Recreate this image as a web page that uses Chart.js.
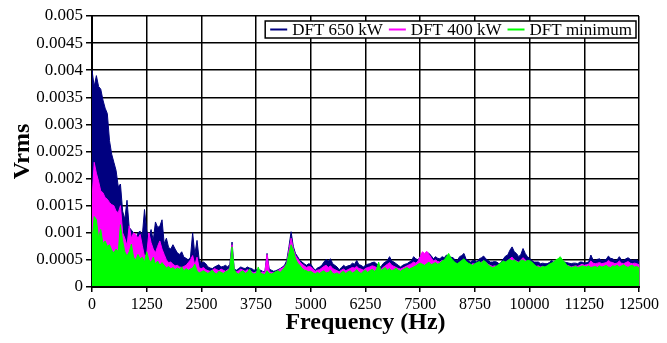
<!DOCTYPE html>
<html>
<head>
<meta charset="utf-8">
<title>DFT spectra</title>
<script src="https://cdn.jsdelivr.net/npm/chart.js@4.4.1/dist/chart.umd.min.js"></script>
<style>
  html, body { margin: 0; padding: 0; background: #fff; }
  #wrap { position: relative; width: 667px; height: 343px; }
</style>
</head>
<body>
<div id="wrap"><canvas id="spectrum"></canvas></div>
<script>
// Spectrum bins are 50 Hz apart, starting at 0 Hz (251 bins up to 12500 Hz).
const FREQ_STEP = 50;

const X_TICKS = [0, 1250, 2500, 3750, 5000, 6250, 7500, 8750, 10000, 11250, 12500];
const Y_TICKS = [0, 0.0005, 0.001, 0.0015, 0.002, 0.0025, 0.003, 0.0035, 0.004, 0.0045, 0.005];

const SERIES_LABELS = ['DFT 650 kW', 'DFT 400 kW', 'DFT minimum'];

// Vrms, one row = 500 Hz
const DFT_650KW = [
  0.0040, 0.0037, 0.0039, 0.0037, 0.00365, 0.00345, 0.0033, 0.0032, 0.0027, 0.00245,      // 0
  0.0023, 0.00215, 0.00185, 0.0019, 0.0014, 0.00125, 0.0016, 0.0011, 0.00105, 0.0010,     // 500
  0.00088, 0.0010, 0.00103, 0.00095, 0.00143, 0.00104, 0.0009, 0.00106, 0.00086, 0.0012,  // 1000
  0.0011, 0.00112, 0.00124, 0.0008, 0.0009, 0.00073, 0.0007, 0.00078, 0.0007, 0.00063,    // 1500
  0.0006, 0.00065, 0.00055, 0.00053, 0.0005, 0.00055, 0.0010, 0.0006, 0.00086, 0.0005,    // 2000
  0.00044, 0.00046, 0.00043, 0.00037, 0.00035, 0.00034, 0.00037, 0.00039, 0.00041, 0.00037, // 2500
  0.00038, 0.0004, 0.00037, 0.00042, 0.00083, 0.00033, 0.00031, 0.00034, 0.00037, 0.00035,  // 3000
  0.00034, 0.00037, 0.00035, 0.00034, 0.00031, 0.00032, 0.00031, 0.00031, 0.00029, 0.00028, // 3500
  0.00062, 0.00033, 0.00031, 0.00029, 0.0003, 0.00032, 0.00034, 0.00037, 0.0004, 0.00049,   // 4000
  0.00074, 0.00102, 0.00075, 0.00062, 0.00056, 0.00049, 0.00046, 0.00043, 0.0004, 0.00043,  // 4500
  0.00042, 0.00036, 0.00031, 0.00035, 0.00037, 0.0004, 0.00046, 0.00051, 0.00048, 0.00052,  // 5000
  0.00043, 0.0004, 0.00037, 0.00032, 0.00036, 0.0004, 0.00037, 0.00039, 0.0004, 0.00044,    // 5500
  0.00042, 0.00049, 0.00041, 0.0004, 0.00037, 0.0004, 0.00042, 0.00043, 0.00045, 0.00046,   // 6000
  0.00043, 0.0004, 0.00037, 0.00043, 0.00046, 0.00049, 0.00056, 0.00048, 0.00046, 0.00043,  // 6500
  0.0004, 0.00037, 0.0004, 0.00042, 0.00043, 0.00046, 0.00048, 0.00056, 0.00052, 0.0005,    // 7000
  0.00056, 0.00062, 0.0006, 0.00064, 0.00062, 0.00058, 0.00052, 0.00056, 0.00053, 0.00052,  // 7500
  0.00056, 0.00054, 0.00059, 0.00056, 0.00055, 0.00054, 0.0005, 0.00049, 0.00056, 0.00058,  // 8000
  0.00062, 0.00051, 0.00049, 0.00046, 0.00049, 0.00048, 0.00046, 0.00052, 0.00054, 0.00057, // 8500
  0.00052, 0.00049, 0.00046, 0.00046, 0.00047, 0.00046, 0.00043, 0.00045, 0.00052, 0.00057, // 9000
  0.00059, 0.00068, 0.00074, 0.00065, 0.00062, 0.00056, 0.0006, 0.00071, 0.00062, 0.00056,  // 9500
  0.00053, 0.00049, 0.00046, 0.00046, 0.00046, 0.00043, 0.00044, 0.00043, 0.00043, 0.00045, // 10000
  0.00049, 0.00046, 0.00047, 0.00049, 0.00046, 0.00047, 0.00046, 0.00045, 0.00044, 0.00043, // 10500
  0.00044, 0.00044, 0.00043, 0.00046, 0.00046, 0.00044, 0.00045, 0.00046, 0.00059, 0.0005,  // 11000
  0.00049, 0.00051, 0.00052, 0.00049, 0.0005, 0.00051, 0.00057, 0.00053, 0.00052, 0.00049,  // 11500
  0.0005, 0.00056, 0.0005, 0.00049, 0.00052, 0.00054, 0.00051, 0.00049, 0.0005, 0.0005,     // 12000
  0.00046                                                                                   // 12500
];

const DFT_400KW = [
  0.0016, 0.0023, 0.0021, 0.00195, 0.00177, 0.00174, 0.00165, 0.00162, 0.00156, 0.00152,   // 0
  0.0015, 0.0014, 0.00137, 0.0015, 0.0010, 0.0009, 0.00076, 0.00113, 0.0009, 0.0010,       // 500
  0.00097, 0.0009, 0.00097, 0.00076, 0.00057, 0.0006, 0.0010, 0.00082, 0.0007, 0.00063,    // 1000
  0.00075, 0.00085, 0.0007, 0.0006, 0.0005, 0.00045, 0.00046, 0.00042, 0.00039, 0.0004,    // 1500
  0.00037, 0.00036, 0.00038, 0.0004, 0.00045, 0.0005, 0.00058, 0.0004, 0.00055, 0.00035,   // 2000
  0.00034, 0.00036, 0.00032, 0.0003, 0.00029, 0.00031, 0.00034, 0.00032, 0.0003, 0.00033,  // 2500
  0.00031, 0.00029, 0.00032, 0.00034, 0.00078, 0.0003, 0.00028, 0.0003, 0.00033, 0.00031,  // 3000
  0.00029, 0.00032, 0.0003, 0.00028, 0.00026, 0.00028, 0.00027, 0.00026, 0.00028, 0.00026, // 3500
  0.0006, 0.00028, 0.00027, 0.00026, 0.00028, 0.0003, 0.00033, 0.00035, 0.00038, 0.00043,  // 4000
  0.00068, 0.0009, 0.0007, 0.00058, 0.00052, 0.00046, 0.00042, 0.00039, 0.00036, 0.00038,  // 4500
  0.00037, 0.00033, 0.00029, 0.00031, 0.00032, 0.00035, 0.00038, 0.0004, 0.00036, 0.00039, // 5000
  0.00034, 0.00032, 0.0003, 0.00028, 0.00031, 0.00033, 0.0003, 0.00032, 0.00034, 0.00036,  // 5500
  0.00035, 0.00038, 0.00034, 0.00033, 0.00031, 0.00034, 0.00036, 0.00037, 0.00039, 0.00038, // 6000
  0.00036, 0.00033, 0.00032, 0.00036, 0.00039, 0.00042, 0.00045, 0.0004, 0.00038, 0.00036,  // 6500
  0.00034, 0.00033, 0.00035, 0.00037, 0.00039, 0.00041, 0.00043, 0.00046, 0.00044, 0.00048, // 7000
  0.00056, 0.00065, 0.00062, 0.00066, 0.0006, 0.00054, 0.00048, 0.0005, 0.00047, 0.00046,   // 7500
  0.00049, 0.00048, 0.0005, 0.00049, 0.00046, 0.00045, 0.00043, 0.00042, 0.00045, 0.00048,  // 8000
  0.0005, 0.00044, 0.00042, 0.0004, 0.00043, 0.00042, 0.00041, 0.00044, 0.00046, 0.00048,   // 8500
  0.00045, 0.00042, 0.0004, 0.00038, 0.00039, 0.00038, 0.00037, 0.00039, 0.00043, 0.00046,  // 9000
  0.00048, 0.00052, 0.00055, 0.0005, 0.00048, 0.00046, 0.0005, 0.00054, 0.0005, 0.00046,    // 9500
  0.00044, 0.00042, 0.0004, 0.00038, 0.00039, 0.00037, 0.00038, 0.00036, 0.00038, 0.0004,   // 10000
  0.00043, 0.00041, 0.00044, 0.00048, 0.00052, 0.00046, 0.00042, 0.0004, 0.00039, 0.00037,  // 10500
  0.00038, 0.00039, 0.00038, 0.0004, 0.00042, 0.0004, 0.00041, 0.00042, 0.00048, 0.00044,   // 11000
  0.00043, 0.00044, 0.00045, 0.00043, 0.00044, 0.00045, 0.00049, 0.00046, 0.00045, 0.00043, // 11500
  0.00044, 0.00048, 0.00044, 0.00043, 0.00045, 0.00047, 0.00044, 0.00043, 0.00044, 0.00043, // 12000
  0.00041                                                                                   // 12500
];

const DFT_MINIMUM = [
  0.00085, 0.0013, 0.00125, 0.0009, 0.00106, 0.0008, 0.00085, 0.00075, 0.00078, 0.00068,   // 0
  0.00063, 0.0007, 0.00065, 0.00115, 0.00085, 0.00065, 0.00057, 0.00065, 0.00079, 0.00055, // 500
  0.0005, 0.0006, 0.00052, 0.00055, 0.00046, 0.00065, 0.0005, 0.00045, 0.00055, 0.00042,   // 1000
  0.00048, 0.0004, 0.00045, 0.0004, 0.00035, 0.00038, 0.00033, 0.00036, 0.00032, 0.00035,  // 1500
  0.00033, 0.00037, 0.0003, 0.00034, 0.00031, 0.00033, 0.00035, 0.00042, 0.0003, 0.00026,  // 2000
  0.00028, 0.0003, 0.00027, 0.00025, 0.00028, 0.00031, 0.00026, 0.00024, 0.00029, 0.00027, // 2500
  0.00025, 0.00028, 0.0003, 0.00034, 0.00074, 0.00032, 0.00026, 0.00024, 0.00028, 0.0003,  // 3000
  0.00025, 0.00027, 0.00033, 0.00026, 0.00024, 0.00025, 0.00037, 0.00026, 0.00024, 0.00023, // 3500
  0.0003, 0.00025, 0.00024, 0.00026, 0.00028, 0.0003, 0.00027, 0.00031, 0.00036, 0.00043,  // 4000
  0.00062, 0.00078, 0.00068, 0.00052, 0.00044, 0.0004, 0.00034, 0.00031, 0.0003, 0.00028,  // 4500
  0.00029, 0.00026, 0.00024, 0.00027, 0.00025, 0.00028, 0.0003, 0.00026, 0.00027, 0.00031, // 5000
  0.00025, 0.00024, 0.00026, 0.00023, 0.00027, 0.00029, 0.00025, 0.00028, 0.0003, 0.00026, // 5500
  0.00028, 0.00032, 0.00027, 0.00025, 0.00029, 0.00031, 0.00027, 0.0003, 0.00033, 0.00029, // 6000
  0.00032, 0.00046, 0.0003, 0.00033, 0.00036, 0.00031, 0.00034, 0.0003, 0.00032, 0.00035,  // 6500
  0.00031, 0.00029, 0.00032, 0.00034, 0.00036, 0.00033, 0.00035, 0.00037, 0.00039, 0.00042, // 7000
  0.00044, 0.00042, 0.0004, 0.00043, 0.00046, 0.00041, 0.00043, 0.00045, 0.00042, 0.00044,  // 7500
  0.00048, 0.0005, 0.00056, 0.00062, 0.00054, 0.00049, 0.00045, 0.00043, 0.00046, 0.00049,  // 8000
  0.00052, 0.00047, 0.00044, 0.00042, 0.0004, 0.00043, 0.00045, 0.00047, 0.00044, 0.00049,  // 8500
  0.00046, 0.00041, 0.00038, 0.00036, 0.00037, 0.00039, 0.00042, 0.00045, 0.00048, 0.00046, // 9000
  0.00049, 0.00051, 0.00048, 0.0005, 0.00047, 0.00045, 0.00049, 0.0005, 0.00047, 0.00049,   // 9500
  0.00049, 0.00046, 0.00042, 0.00038, 0.00037, 0.00036, 0.00038, 0.00037, 0.00039, 0.00042, // 10000
  0.00044, 0.00046, 0.0005, 0.00052, 0.00056, 0.0005, 0.00046, 0.0004, 0.00038, 0.00036,    // 10500
  0.00037, 0.00038, 0.00036, 0.00037, 0.00039, 0.00038, 0.00037, 0.00039, 0.00036, 0.00037, // 11000
  0.00038, 0.00036, 0.00039, 0.00037, 0.00038, 0.0004, 0.00037, 0.00036, 0.00039, 0.00038,  // 11500
  0.0004, 0.00037, 0.00039, 0.00041, 0.00038, 0.00036, 0.00039, 0.0004, 0.00037, 0.00038,   // 12000
  0.00035                                                                                   // 12500
];

const NAVY    = '#000080';
const MAGENTA = '#FF00FF';
const GREEN   = '#00FF00';
const SERIF   = "'Liberation Serif', 'Times New Roman', serif";

Chart.defaults.font.family = SERIF;
Chart.defaults.color = '#000';

function toPoints(values) {
  return values.map((v, i) => ({ x: i * FREQ_STEP, y: v }));
}

function fmtTick(v) {
  return String(parseFloat(Number(v).toFixed(4)));
}

// legend box sitting inside the plot, top right, like the original
const legendBox = {
  id: 'legendBox',
  afterDraw(chart) {
    const { ctx, chartArea } = chart;
    const lineLen = 17, gap = 5, padL = 5, padR = 4, h = 17;
    ctx.save();
    ctx.font = '17px ' + SERIF;
    const items = chart.data.datasets.map(ds => ({
      text:  ds.label,
      color: ds.borderColor,
      w:     ctx.measureText(ds.label).width
    }));
    let width = padL + padR;
    items.forEach((it, i) => {
      width += lineLen + gap + it.w + (i < items.length - 1 ? gap + 1 : 0);
    });
    const right = chartArea.right - 3;
    const top   = chartArea.top + 5;
    const left  = right - width;
    ctx.fillStyle = '#fff';
    ctx.fillRect(left, top, width, h);
    ctx.strokeStyle = '#000';
    ctx.lineWidth = 1.5;
    ctx.strokeRect(left, top, width, h);

    const midY = top + h / 2;
    let x = left + padL;
    ctx.textBaseline = 'middle';
    items.forEach(it => {
      ctx.strokeStyle = it.color;
      ctx.lineWidth = 2;
      ctx.beginPath();
      ctx.moveTo(x, midY);
      ctx.lineTo(x + lineLen, midY);
      ctx.stroke();
      x += lineLen + gap;
      ctx.fillStyle = '#000';
      ctx.fillText(it.text, x, midY + 1);
      x += it.w + gap + 1;
    });
    ctx.restore();
  }
};

// redraw the x axis line over the filled spectra
const axisLine = {
  id: 'axisLine',
  afterDatasetsDraw(chart) {
    const { ctx, chartArea } = chart;
    ctx.save();
    ctx.strokeStyle = '#000';
    ctx.lineWidth = 2;
    ctx.beginPath();
    ctx.moveTo(chartArea.left - 1, chartArea.bottom);
    ctx.lineTo(chartArea.right + 1, chartArea.bottom);
    ctx.stroke();
    ctx.restore();
  }
};

const common = {
  borderWidth: 1,
  pointRadius: 0,
  tension:     0,
  fill:        'origin'
};

const datasets = [
  { ...common, label: SERIES_LABELS[0], data: toPoints(DFT_650KW),   borderColor: NAVY,    backgroundColor: NAVY,    order: 3 },
  { ...common, label: SERIES_LABELS[1], data: toPoints(DFT_400KW),   borderColor: MAGENTA, backgroundColor: MAGENTA, order: 2 },
  { ...common, label: SERIES_LABELS[2], data: toPoints(DFT_MINIMUM), borderColor: GREEN,   backgroundColor: GREEN,   order: 1 }
];

new Chart(document.getElementById('spectrum'), {
  type: 'line',
  data: { datasets },
  options: {
    responsive:          true,
    maintainAspectRatio: false,
    animation:           false,
    devicePixelRatio:    1,
    layout: { padding: { top: 16, right: 28, left: 0, bottom: 0 } },
    plugins: {
      legend:  { display: false },
      tooltip: { enabled: false }
    },
    scales: {
      x: {
        type: 'linear',
        min:  X_TICKS[0],
        max:  X_TICKS[X_TICKS.length - 1],
        afterFit(scale) { scale.height = 56; },
        afterBuildTicks(scale) { scale.ticks = X_TICKS.map(v => ({ value: v })); },
        grid:   { color: '#000', lineWidth: 1.5, tickLength: 5, tickColor: '#000', tickWidth: 1.5 },
        border: { color: '#000', width: 2 },
        ticks:  {
          autoSkip:    false,
          maxRotation: 0,
          padding:     3,
          font:        { size: 16 },
          callback:    v => String(v)
        },
        title: {
          display: true,
          text:    'Frequency (Hz)',
          font:    { size: 24, weight: 'bold' },
          padding: { top: 0, bottom: 6 }
        }
      },
      y: {
        min: Y_TICKS[0],
        max: Y_TICKS[Y_TICKS.length - 1],
        afterFit(scale) { scale.width = 92; },
        afterBuildTicks(scale) { scale.ticks = Y_TICKS.map(v => ({ value: v })); },
        grid:   { color: '#000', lineWidth: 1.5, tickLength: 6, tickColor: '#000', tickWidth: 1.5 },
        border: { color: '#000', width: 2 },
        ticks:  {
          padding:  3,
          font:     { size: 17 },
          callback: fmtTick
        },
        title: {
          display: true,
          text:    'Vrms',
          font:    { size: 24, weight: 'bold' },
          padding: { top: 8, bottom: 0 }
        }
      }
    }
  },
  plugins: [legendBox, axisLine]
});
</script>
</body>
</html>
